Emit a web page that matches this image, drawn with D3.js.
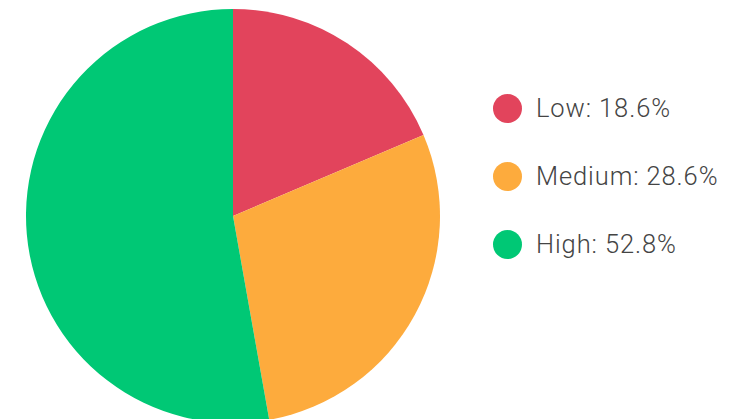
<!DOCTYPE html>
<html><head><meta charset="utf-8">
<script src="https://cdn.jsdelivr.net/npm/d3@7"></script>
<style>html,body{margin:0;padding:0;background:#fff;overflow:hidden}</style>
</head><body>
<svg id="chart" width="734" height="419"></svg>
<script>
const categories = ["Low", "Medium", "High"];
const values = [18.6, 28.6, 52.8];
const colors = ["#E2445C", "#FDAB3D", "#00C875"];

const svg = d3.select("#chart");
const cx = 233, cy = 216, r = 207;
const data = categories.map((c, i) => ({ name: c, value: values[i], color: colors[i] }));

const pie = d3.pie().value(d => d.value).sort(null);
const arc = d3.arc().innerRadius(0).outerRadius(r);

svg.append("g").attr("transform", `translate(${cx},${cy})`)
  .selectAll("path").data(pie(data)).join("path")
  .attr("d", arc).attr("fill", d => d.data.color);

const legendY = d3.scalePoint().domain(categories).range([108.5, 244.5]);
const lg = svg.append("g");
const items = lg.selectAll("g").data(data).join("g")
  .attr("transform", d => `translate(507.5,${legendY(d.name)})`);
items.append("circle").attr("r", 14.5).attr("fill", d => d.color);
items.append("text").attr("x", 28.5).attr("y", 8.8)
  .attr("font-family", "Roboto, sans-serif").attr("font-size", 25.5)
  .attr("font-weight", 300).attr("letter-spacing", "0.9px")
  .attr("fill", "#444")
  .text(d => `${d.name}: ${d.value.toFixed(1)}%`);
</script>
</body></html>
